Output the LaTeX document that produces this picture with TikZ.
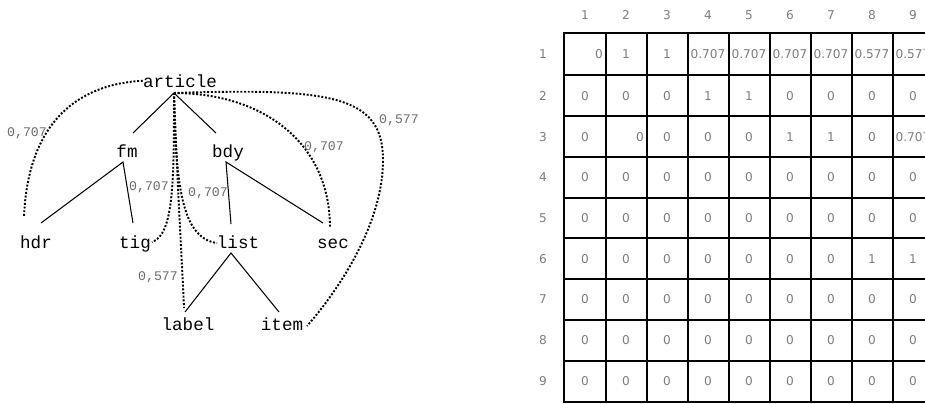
\documentclass[tikz,border=0pt]{standalone}
\usepackage{fontspec}
\newfontfamily\treefont{Liberation Mono}
\newfontfamily\numfont{DejaVu Sans}
\usepackage{tikz}
\definecolor{wtgray}{HTML}{6A6A6A}
\definecolor{numgray}{HTML}{7C7C7C}

\begin{document}
\begin{tikzpicture}[x=0.02cm,y=-0.02cm,
  word/.style={font=\treefont\fontsize{10}{11}\selectfont,inner sep=0pt,anchor=base},
  wt/.style={font=\treefont\fontsize{7.5}{8}\selectfont,text=wtgray,inner sep=0pt},
  tedge/.style={line width=0.6pt},
  sim/.style={line width=1.1pt,densely dotted},
  num/.style={font=\numfont\fontsize{6.9}{8}\selectfont,text=numgray,inner sep=0pt},
  cellline/.style={line width=1.2pt,line cap=rect}]
  \useasboundingbox (0,0) rectangle (925,403);

  % tree
  \node[word] (article) at (180,87) {article};
  \node[word] (fm) at (127,157) {fm};
  \node[word] (bdy) at (228,157) {bdy};
  \node[word] (hdr) at (36,248) {hdr};
  \node[word] (tig) at (135,248) {tig};
  \node[word] (lst) at (238,248) {list};
  \node[word] (sec) at (333,248) {sec};
  \node[word] (lbl) at (188,330) {label};
  \node[word] (item) at (282,330) {item};

  \coordinate (article-j) at (174,93);
  \coordinate (fm-in) at (133,133);
  \coordinate (bdy-in) at (216,133);
  \coordinate (fm-j) at (123,162);
  \coordinate (hdr-in) at (41,223);
  \coordinate (tig-in) at (133,223);
  \coordinate (bdy-j) at (226,162);
  \coordinate (lst-in) at (231,224);
  \coordinate (sec-in) at (323,223);
  \coordinate (lst-j) at (231,253);
  \coordinate (lbl-in) at (185,312);
  \coordinate (item-in) at (279,312);

  \draw[tedge] (fm-in) -- (article-j) -- (bdy-in);
  \draw[tedge] (hdr-in) -- (fm-j) -- (tig-in);
  \draw[tedge] (lst-in) -- (bdy-j) -- (sec-in);
  \draw[tedge] (lbl-in) -- (lst-j) -- (item-in);

  % similarity arcs
  \coordinate (hdr-s) at (24,217);
  \coordinate (tig-s) at (152,242);
  \coordinate (lst-s) at (217,243);
  \coordinate (lbl-s) at (184,308);
  \coordinate (sec-s) at (330,228);
  \coordinate (item-s) at (307,326);
  \draw[sim] (article.west) .. controls (80,84) and (28,120) .. (hdr-s);
  \draw[sim] (article-j) .. controls (174,180) and (174,235) .. (tig-s);
  \draw[sim] (article-j) .. controls (176,180) and (180,238) .. (lst-s);
  \draw[sim] (article-j) .. controls (178,200) and (182,260) .. (lbl-s);
  \draw[sim] (article-j) .. controls (260,93) and (330,140) .. (sec-s);
  \draw[sim] (article-j) .. controls (330,88) and (383,95) .. (383,160)
    .. controls (383,230) and (330,300) .. (item-s);

  \node[wt] (w-hdr) at (27,133) {0,707};
  \node[wt] (w-tig) at (149,187) {0,707};
  \node[wt] (w-lst) at (208,193) {0,707};
  \node[wt] (w-lbl) at (158,277) {0,577};
  \node[wt] (w-sec) at (324,147) {0,707};
  \node[wt] (w-item) at (399,120) {0,577};

  % matrix
  \begin{scope}
    \clip (0,0) rectangle (925,403);
    \foreach \x in {564,606,647,688,729,770,811,852,893,934}
      \draw[cellline] (\x,33) -- (\x,402);
    \foreach \y in {33,75,116,157,198,238,279,320,361,402}
      \draw[cellline] (564,\y) -- (934,\y);

    \foreach \c in {1,...,9}
      \node[num] (col\c) at (544+41*\c,15) {\c};
    \foreach \r/\y in {1/54,2/96,3/137,4/177,5/218,6/259,7/299,8/340,9/381}
      \node[num] (row\r) at (543,\y) {\r};

    \foreach \r/\y/\vals in {
        1/54/{,1,1,0.707,0.707,0.707,0.707,0.577,0.577},
        2/96/{0,0,0,1,1,0,0,0,0},
        3/137/{0,,0,0,0,1,1,0,0.707},
        4/177/{0,0,0,0,0,0,0,0,0},
        5/218/{0,0,0,0,0,0,0,0,0},
        6/259/{0,0,0,0,0,0,0,1,1},
        7/299/{0,0,0,0,0,0,0,0,0},
        8/340/{0,0,0,0,0,0,0,0,0},
        9/381/{0,0,0,0,0,0,0,0,0}}
      \foreach \v [count=\c] in \vals
        \node[num] (c-\r-\c) at (544+41*\c,\y) {\v};
    \node[num] (c-1-1) at (599,54) {0};
    \node[num] (c-3-2) at (640,137) {0};
  \end{scope}
\end{tikzpicture}
\end{document}
